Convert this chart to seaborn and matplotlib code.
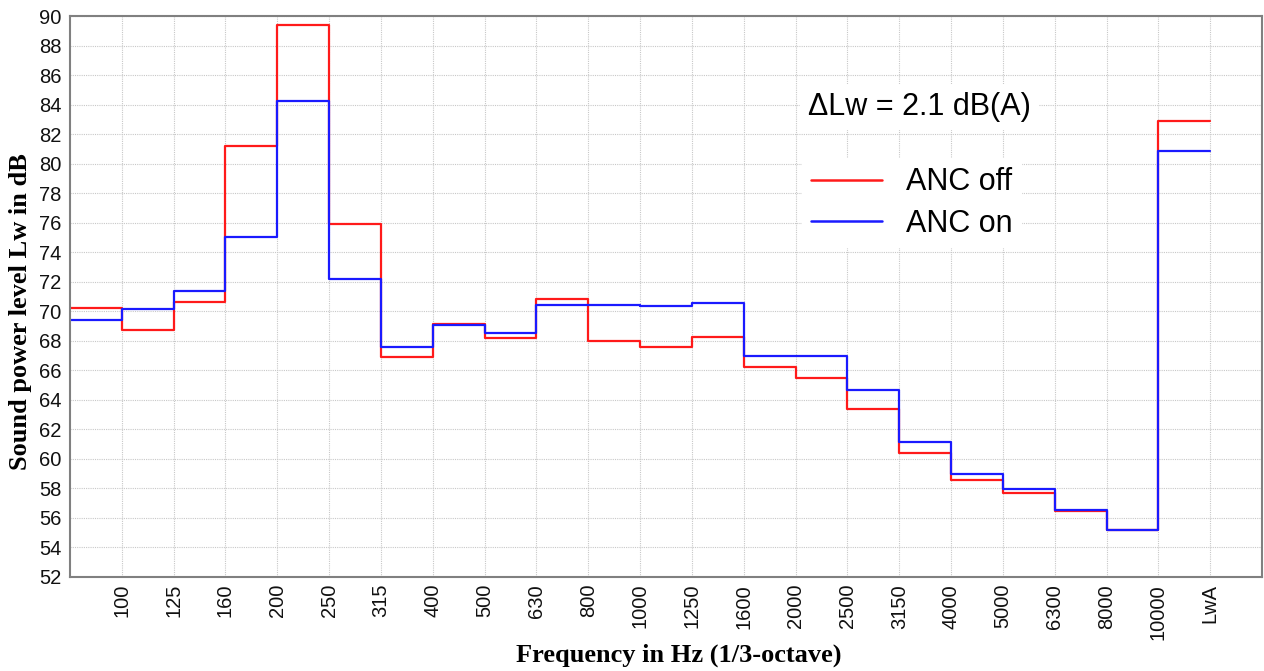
import numpy as np
import pandas as pd
import matplotlib
matplotlib.use("Agg")
import matplotlib.pyplot as plt
import seaborn as sns
from matplotlib.lines import Line2D

# ---- data ----
bands = ["100", "125", "160", "200", "250", "315", "400", "500", "630", "800",
         "1000", "1250", "1600", "2000", "2500", "3150", "4000", "5000", "6300",
         "8000", "10000", "LwA"]
anc_off = [70.2, 68.7, 70.6, 81.2, 89.4, 75.9, 66.9, 69.15, 68.2, 70.8, 68.0,
           67.6, 68.25, 66.2, 65.5, 63.4, 60.4, 58.55, 57.7, 56.45, 55.2, 82.9]
anc_on = [69.4, 70.15, 71.4, 75.0, 84.25, 72.2, 67.55, 69.05, 68.55, 70.45, 70.4,
          70.35, 70.55, 67.0, 66.95, 64.65, 61.15, 58.95, 57.95, 56.55, 55.2, 80.85]
series_names = ["ANC off", "ANC on"]
series_colors = ["#ff1a1a", "#1a1aff"]
y_ticks = list(range(52, 91, 2))
delta_text = "\u0394Lw = 2.1 dB(A)"
x_label = "Frequency in Hz (1/3-octave)"
y_label = "Sound power level Lw in dB"

# long-form table; each band value spans the step ending at its label
rows = []
for name, vals in zip(series_names, [anc_off, anc_on]):
    xs = [-1] + list(range(len(bands)))
    ys = [vals[0]] + list(vals)
    for x, y in zip(xs, ys):
        rows.append({"pos": x, "level": y, "series": name})
df = pd.DataFrame(rows)

sns.set_theme(style="white")
plt.rcParams["font.family"] = ["Liberation Sans", "DejaVu Sans"]
plt.rcParams["text.color"] = "black"

fig = plt.figure(figsize=(12.64, 6.71), dpi=100)
ax = fig.add_axes([70 / 1264, 1 - 577 / 671, (1262 - 70) / 1264, (577 - 16) / 671])

sns.lineplot(data=df, x="pos", y="level", hue="series",
             palette=dict(zip(series_names, series_colors)),
             drawstyle="steps-pre", linewidth=1.6, ax=ax, legend=False,
             estimator=None, sort=False)

ax.set_xlim(-1, len(bands))
ax.set_ylim(52, 90)
ax.set_xticks(range(len(bands)))
ax.set_xticklabels(bands, rotation=90, fontsize=14.5, color="#111111")
ax.set_yticks(y_ticks)
ax.set_yticklabels([str(t) for t in y_ticks], fontsize=14.5, color="#111111")
ax.tick_params(axis="x", length=0, pad=5)
ax.tick_params(axis="y", length=4, width=1, color="#808080", pad=2, direction="out")

ax.grid(True, linestyle=(0, (1, 1)), color="#c8c8c8", linewidth=0.8)
for s in ax.spines.values():
    s.set_color("#808080")
    s.set_linewidth(1.5)

ax.set_xlabel(x_label, fontsize=19, fontweight="bold", color="black",
              family=["Liberation Serif", "DejaVu Serif"])
ax.set_ylabel(y_label, fontsize=19, fontweight="bold", color="black",
              family=["Liberation Serif", "DejaVu Serif"])
ax.xaxis.set_label_coords((679 - 70) / 1192, -(655 - 577) / 561, transform=ax.transAxes)
ax.xaxis.label.set_va("center")
ax.yaxis.set_label_coords(-(70 - 21) / 1192, 1 - (312 - 16) / 561, transform=ax.transAxes)
ax.yaxis.label.set_va("center")

# annotation and legend
fig.text(808 / 1264, 1 - 107 / 671, delta_text, fontsize=22, va="center", ha="left",
         color="black", bbox=dict(facecolor="white", edgecolor="none", pad=6))
handles = [Line2D([], [], color=c, linewidth=1.8) for c in series_colors]
leg = ax.legend(handles, series_names, loc="upper left",
                bbox_to_anchor=(787 / 1264, 1 - 143 / 671),
                bbox_transform=fig.transFigure, fontsize=22, frameon=True,
                handlelength=2.3, handletextpad=0.8, labelspacing=0.37,
                borderpad=0.3, fancybox=False, labelcolor="black")
leg.get_frame().set_facecolor("white")
leg.get_frame().set_edgecolor("none")
leg.get_frame().set_alpha(1)

fig.savefig("out.png", dpi=100)
